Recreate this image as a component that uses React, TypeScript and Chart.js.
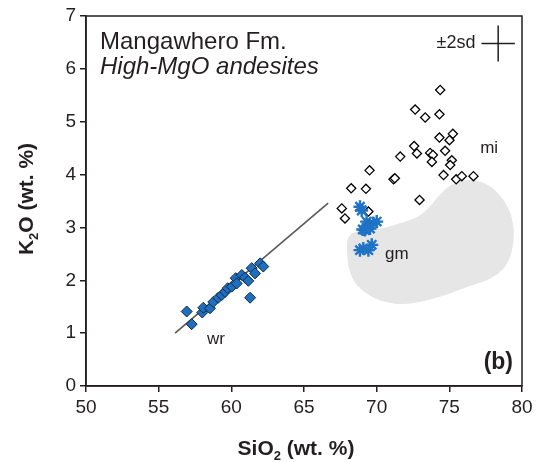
import React, { useEffect, useRef } from "react";
import { Chart, registerables } from "chart.js";

Chart.register(...registerables);

// ---------------- data ----------------
const xTickValues = [50, 55, 60, 65, 70, 75, 80];
const yTickValues = [0, 1, 2, 3, 4, 5, 6, 7];

// mi (open diamonds)
const miSiO2 = [74.37, 72.65, 73.34, 74.32, 74.32, 75.24, 75.01, 72.58, 71.62, 72.77, 73.68, 73.87, 73.8, 74.71, 75.17, 75.06, 74.6, 75.47, 75.86, 76.66, 69.51, 71.16, 71.25, 68.25, 69.26, 72.95, 67.6, 67.82, 69.43];
const miK2O = [5.6, 5.23, 5.08, 5.14, 4.7, 4.77, 4.65, 4.54, 4.34, 4.4, 4.41, 4.37, 4.24, 4.45, 4.27, 4.18, 3.99, 3.91, 3.97, 3.97, 4.08, 3.91, 3.93, 3.74, 3.73, 3.52, 3.36, 3.17, 3.3];

// wr (filled blue diamonds)
const wrSiO2 = [56.93, 57.27, 58.0, 58.07, 58.53, 58.76, 59.1, 59.34, 59.57, 59.75, 60.03, 60.3, 60.37, 60.72, 60.94, 61.17, 61.29, 61.4, 61.63, 61.98, 62.2];
const wrK2O = [1.41, 1.17, 1.39, 1.48, 1.47, 1.59, 1.67, 1.72, 1.78, 1.85, 1.88, 2.04, 1.94, 2.1, 2.05, 1.99, 1.67, 2.23, 2.13, 2.32, 2.26];

// gm (blue asterisks)
const gmSiO2 = [68.85, 68.97, 69.31, 69.2, 69.77, 70.0, 69.54, 69.04, 69.08, 69.43, 69.66, 68.85];
const gmK2O = [3.39, 3.32, 3.11, 2.95, 3.08, 3.11, 2.98, 2.96, 2.6, 2.57, 2.67, 2.57];

// grey field outline
const fieldSiO2 = [67.98, 68.05, 68.39, 69.31, 70.46, 71.83, 72.87, 73.67, 74.36, 75.05, 75.85, 76.77, 77.8, 78.6, 79.17, 79.4, 79.22, 78.72, 77.8, 76.2, 74.59, 72.98, 71.49, 70.23, 69.2, 68.51, 68.12, 67.98];
const fieldK2O = [2.57, 2.79, 2.89, 2.94, 2.98, 3.09, 3.2, 3.39, 3.61, 3.78, 3.87, 3.88, 3.77, 3.55, 3.27, 2.89, 2.51, 2.23, 2.04, 1.88, 1.72, 1.6, 1.56, 1.63, 1.78, 1.97, 2.23, 2.57];

// wr trend line
const trendSiO2 = [56.13, 66.66];
const trendK2O = [1.0, 3.46];

// ±2sd cross (centre and half-lengths)
const sdCentre = [78.36, 6.48];
const sdHalf = [1.15, 0.34];

// group labels [text, SiO2, K2O]
const groupLabels: [string, number, number][] = [
  ["mi", 77.12, 4.41],
  ["gm", 70.57, 2.4],
  ["wr", 58.33, 0.79],
];

const titleLine1 = "Mangawhero Fm.";
const titleLine2 = "High-MgO andesites";
const sdLabel = "±2sd";
const panelLabel = "(b)";

const FONT = "'Liberation Sans', Arial, Helvetica, sans-serif";
const INK = "#231f20";

const pts = (xs: number[], ys: number[]) => xs.map((x, i) => ({ x, y: ys[i] }));

const annotPlugin = {
  id: "annot",
  afterDraw(chart: any) {
    const { ctx, chartArea: a, scales } = chart;
    const xs = scales.x;
    const ys = scales.y;
    ctx.save();
    // frame
    ctx.strokeStyle = INK;
    ctx.lineWidth = 1.5;
    ctx.strokeRect(a.left, a.top, a.right - a.left, a.bottom - a.top);

    ctx.fillStyle = INK;
    ctx.textBaseline = "alphabetic";
    // title
    ctx.textAlign = "left";
    ctx.font = `24px ${FONT}`;
    ctx.fillText(titleLine1, a.left + 14, a.top + 33);
    ctx.font = `italic 24px ${FONT}`;
    ctx.fillText(titleLine2, a.left + 14, a.top + 58);

    // ±2sd text
    ctx.font = `18px ${FONT}`;
    ctx.textAlign = "right";
    const crossLeft = xs.getPixelForValue(sdCentre[0] - sdHalf[0]);
    ctx.fillText(sdLabel, crossLeft - 6, ys.getPixelForValue(sdCentre[1]) + 5);

    // (b)
    ctx.font = `bold 23px ${FONT}`;
    ctx.textAlign = "right";
    ctx.fillText(panelLabel, a.right - 9, a.bottom - 17);

    // group labels
    ctx.font = `17px ${FONT}`;
    ctx.textAlign = "left";
    for (const [t, x, y] of groupLabels) {
      ctx.fillText(t, xs.getPixelForValue(x), ys.getPixelForValue(y));
    }

    // axis titles with subscripts
    const drawParts = (parts: [string, string, number][], cx: number, cy: number) => {
      let total = 0;
      for (const [t, f] of parts) {
        ctx.font = f;
        total += ctx.measureText(t).width;
      }
      let x = cx - total / 2;
      ctx.textAlign = "left";
      for (const [t, f, dy] of parts) {
        ctx.font = f;
        ctx.fillText(t, x, cy + dy);
        x += ctx.measureText(t).width;
      }
    };
    const big = `bold 21px ${FONT}`;
    const sub = `bold 13px ${FONT}`;
    drawParts(
      [["SiO", big, 0], ["2", sub, 5], [" (wt. %)", big, 0]],
      (a.left + a.right) / 2 - 8,
      455
    );
    ctx.save();
    ctx.translate(33, (a.top + a.bottom) / 2 - 2);
    ctx.rotate(-Math.PI / 2);
    drawParts([["K", big, 0], ["2", sub, 5], ["O (wt. %)", big, 0]], 0, 0);
    ctx.restore();

    ctx.restore();
  },
};

export default function App() {
  const ref = useRef<HTMLCanvasElement | null>(null);

  useEffect(() => {
    document.body.style.margin = "0";
    if (!ref.current) return;
    Chart.defaults.font.family = FONT;
    const chart = new Chart(ref.current, {
      type: "scatter",
      data: {
        datasets: [
          {
            label: "field",
            data: pts(fieldSiO2, fieldK2O),
            showLine: true,
            fill: "shape",
            tension: 0.3,
            backgroundColor: "#e6e6e6",
            borderColor: "#e6e6e6",
            borderWidth: 1,
            pointRadius: 0,
            order: 10,
          } as any,
          {
            label: "trend",
            data: pts(trendSiO2, trendK2O),
            showLine: true,
            borderColor: "#595959",
            borderWidth: 1.6,
            pointRadius: 0,
            order: 9,
          },
          {
            label: "mi",
            data: pts(miSiO2, miK2O),
            pointStyle: "rectRot",
            pointRadius: 4.6,
            backgroundColor: "#ffffff",
            borderColor: "#000000",
            borderWidth: 1.3,
            order: 8,
          },
          {
            label: "wr",
            data: pts(wrSiO2, wrK2O),
            pointStyle: "rectRot",
            pointRadius: 5.5,
            backgroundColor: "#1f6fbf",
            borderColor: "#102a45",
            borderWidth: 1,
            order: 7,
          },
          {
            label: "gm",
            data: pts(gmSiO2, gmK2O),
            pointStyle: "star",
            pointRadius: 6.5,
            backgroundColor: "#1f72c4",
            borderColor: "#1f72c4",
            borderWidth: 2.4,
            order: 6,
          },
          {
            label: "sdx",
            data: [
              { x: sdCentre[0] - sdHalf[0], y: sdCentre[1] },
              { x: sdCentre[0] + sdHalf[0], y: sdCentre[1] },
            ],
            showLine: true,
            borderColor: INK,
            borderWidth: 1.5,
            pointRadius: 0,
            order: 5,
          },
          {
            label: "sdy",
            data: [
              { x: sdCentre[0], y: sdCentre[1] - sdHalf[1] },
              { x: sdCentre[0], y: sdCentre[1] + sdHalf[1] },
            ],
            showLine: true,
            borderColor: INK,
            borderWidth: 1.5,
            pointRadius: 0,
            order: 5,
          },
        ],
      },
      options: {
        animation: false,
        responsive: false,
        devicePixelRatio: 1,
        layout: { padding: { left: 0, top: 16, right: 18, bottom: 0 } },
        plugins: { legend: { display: false }, tooltip: { enabled: false } },
        scales: {
          x: {
            type: "linear",
            min: 50,
            max: 80,
            afterBuildTicks: (s: any) => {
              s.ticks = xTickValues.map((v) => ({ value: v }));
            },
            afterFit: (s: any) => {
              s.height = 76;
            },
            ticks: { font: { size: 19, family: FONT }, color: INK, padding: 4, maxRotation: 0 },
            grid: { drawOnChartArea: false, drawTicks: true, tickLength: 6, color: INK, lineWidth: 1.5 },
            border: { display: true, color: INK, width: 1.5 },
          },
          y: {
            type: "linear",
            min: 0,
            max: 7,
            afterBuildTicks: (s: any) => {
              s.ticks = yTickValues.map((v) => ({ value: v }));
            },
            afterFit: (s: any) => {
              s.width = 86;
            },
            ticks: { font: { size: 19, family: FONT }, color: INK, padding: 4 },
            grid: { drawOnChartArea: false, drawTicks: true, tickLength: 6, color: INK, lineWidth: 1.5 },
            border: { display: true, color: INK, width: 1.5 },
          },
        },
      },
      plugins: [annotPlugin],
    });
    return () => chart.destroy();
  }, []);

  return (
    <div style={{ width: 540, height: 462 }}>
      <canvas ref={ref} width={540} height={462} style={{ display: "block" }} />
    </div>
  );
}
